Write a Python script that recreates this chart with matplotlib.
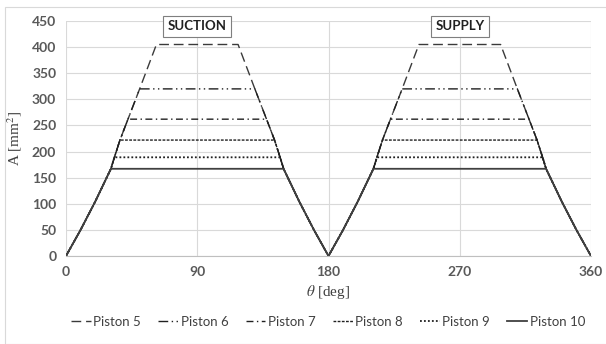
import matplotlib.pyplot as plt
from matplotlib.patches import Rectangle

# rise of the opening area, shared by all pistons
rise_deg = [0, 10, 20, 30.8, 33.2, 37, 42.5, 50.5, 62]
rise_A = [0, 50, 104, 167, 189, 222, 262, 320, 405]

pistons = ["Piston 5", "Piston 6", "Piston 7", "Piston 8", "Piston 9", "Piston 10"]
plateau = [405, 320, 262, 222, 189, 167]
plateau_idx = [8, 7, 6, 5, 4, 3]  # where each piston reaches its plateau on the rise
styles = [(0, (7, 3.5)), (0, (7, 2.5, 1, 2.5, 1, 2.5)), (0, (5, 2.5, 1, 2.5)),
          (0, (2, 1)), (0, (1, 1.2)), "-"]
colors = ["#3a3a3a", "#202020", "#202020", "#202020", "#202020", "#404040"]
widths = [1.0, 1.0, 1.0, 1.0, 1.3, 1.3]

plt.rcParams['font.family'] = ['Lato', 'DejaVu Sans']
plt.rcParams['mathtext.fontset'] = 'stix'

fig = plt.figure(figsize=(6.06, 3.44), dpi=100)
ax = fig.add_axes([66/606, 1-256/344, 525/606, 235/344])

for name, top, k, ls, c, lw in zip(pistons, plateau, plateau_idx, styles, colors, widths):
    half_t = rise_deg[:k+1] + [180 - t for t in rise_deg[:k+1][::-1]]
    half_a = rise_A[:k+1] + rise_A[:k+1][::-1]
    th = half_t + [180 + t for t in half_t]
    a = half_a + half_a
    ax.plot(th, a, linestyle=ls, color=c, lw=lw, label=name)

ax.set_xlim(0, 360)
ax.set_ylim(0, 450)
ax.set_xticks([0, 90, 180, 270, 360])
ax.set_yticks(range(0, 451, 50))
ax.grid(True, color="#d9d9d9", lw=0.8)
ax.set_axisbelow(True)
for s in ["top", "right", "left"]:
    ax.spines[s].set_visible(False)
ax.spines["bottom"].set_color("#bfbfbf")
ax.tick_params(length=0, labelsize=10, labelcolor="#595959", pad=7)
for lab in ax.get_xticklabels() + ax.get_yticklabels():
    lab.set_fontweight("bold")

ax.set_xlabel(r"$\theta$ [deg]", family="Liberation Serif", fontsize=11,
              color="#404040", labelpad=4)
ax.set_ylabel("A [mm$^2$]", family="Liberation Serif", fontsize=11,
              color="#404040", labelpad=6)

for x, txt in [(90, "SUCTION"), (270, "SUPPLY")]:
    ax.text(x, 440, txt, ha="center", va="center", fontsize=9.5, fontweight="bold",
            color="#202020",
            bbox=dict(boxstyle="square,pad=0.35", fc="white", ec="#7f7f7f", lw=0.8))

fig.legend(loc="center", bbox_to_anchor=(328/606, 1-322/344), ncol=6, frameon=False,
           fontsize=9.5, handlelength=1.5, handletextpad=0.2, columnspacing=1.3,
           labelcolor="#404040")

fig.add_artist(Rectangle((5/606, 0), 1, 1-7/344, transform=fig.transFigure,
                         fill=False, ec="#d9d9d9", lw=0.8))

fig.savefig("out.png", dpi=100)
